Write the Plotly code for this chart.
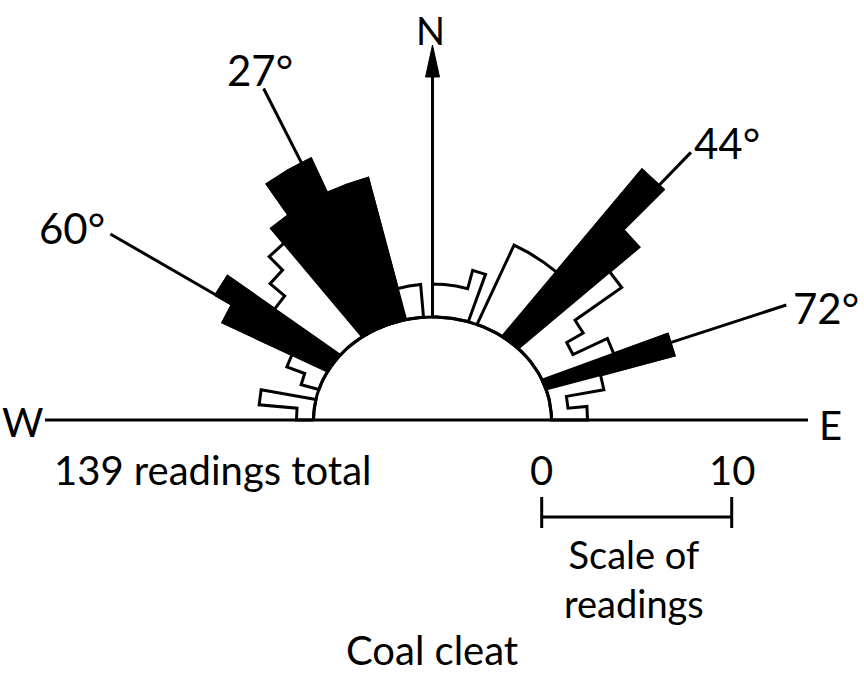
import numpy as np
import plotly.graph_objects as go

# ---------------- data ----------------
bin_start = list(range(-90, 90, 5))          # azimuth of bin start (deg, W negative)
bin_width = 5
counts = [1, 3, 0, 1, 2, 6, 7, 4, 5, 6, 7, 9, 9, 7, 7, 1, 1, 0,
          1, 1, 1, 2, 0, 4, 4, 4, 11, 8, 6, 3, 2, 4, 7, 3, 1, 2]
filled = [0, 0, 0, 0, 0, 1, 1, 0, 0, 0, 1, 1, 1, 1, 1, 0, 0, 0,
          0, 0, 0, 0, 0, 0, 0, 0, 1, 1, 0, 0, 0, 0, 1, 0, 0, 0]
peak_angles = [-60, -27, 44, 72]
peak_labels = ["60°", "27°", "44°", "72°"]
total_readings = 139
scale_ticks = [0, 10]

# ---------------- geometry / style ----------------
PX = 19.0                 # pixels per reading
CX, CY = 432.5, 420.0     # centre in page pixels
RX, RY = 119 / PX, 103 / PX   # flattened base semicircle
R0 = 117 / PX             # zero-reading radius
R_LEAD = 372 / PX
LW = 3
FONT = "Lato"


def px(x, y):
    return (x - CX) / PX, (CY - y) / PX


def ell(phi):
    a = np.radians(phi)
    r = 1.0 / np.sqrt((np.sin(a) / RX) ** 2 + (np.cos(a) / RY) ** 2)
    return r * np.sin(a), r * np.cos(a)


def pol(r, phi):
    a = np.radians(phi)
    return r * np.sin(a), r * np.cos(a)


def runs(mask):
    out, cur = [], []
    for i, m in enumerate(mask):
        if m:
            cur.append(i)
        elif cur:
            out.append(cur)
            cur = []
    if cur:
        out.append(cur)
    return out


def run_polygon(idx):
    a0 = bin_start[idx[0]]
    a1 = bin_start[idx[-1]] + bin_width
    xs, ys = [], []
    x, y = ell(a0)
    xs.append(x); ys.append(y)
    for i in idx:
        r = R0 + counts[i]
        for phi in (bin_start[i], bin_start[i] + bin_width):
            x, y = pol(r, phi)
            xs.append(x); ys.append(y)
    for phi in np.linspace(a1, a0, 20):
        x, y = ell(phi)
        xs.append(x); ys.append(y)
    xs.append(xs[0]); ys.append(ys[0])
    return xs, ys


fig = go.Figure()

# outline (white) bars
for run in runs([c > 0 for c in counts]):
    xs, ys = run_polygon(run)
    fig.add_trace(go.Scatter(x=xs, y=ys, mode="lines", fill="toself",
                             fillcolor="white", line=dict(color="black", width=LW),
                             hoverinfo="skip"))

# leader lines to the peak labels
for ang in peak_angles:
    i = min(range(len(bin_start)), key=lambda k: abs(bin_start[k] + bin_width / 2 - ang))
    r_in = R0 + counts[i] - 0.5
    x0, y0 = pol(r_in, ang)
    x1, y1 = pol(R_LEAD, ang)
    fig.add_trace(go.Scatter(x=[x0, x1], y=[y0, y1], mode="lines",
                             line=dict(color="black", width=LW), hoverinfo="skip"))

# filled (black) bars
for run in runs([c > 0 and f == 1 for c, f in zip(counts, filled)]):
    xs, ys = run_polygon(run)
    fig.add_trace(go.Scatter(x=xs, y=ys, mode="lines", fill="toself",
                             fillcolor="black", line=dict(color="black", width=LW),
                             hoverinfo="skip"))

# base semicircle
phis = np.linspace(-90, 90, 181)
ex, ey = zip(*[ell(p) for p in phis])
fig.add_trace(go.Scatter(x=list(ex), y=list(ey), mode="lines",
                         line=dict(color="black", width=LW), hoverinfo="skip"))

# W-E line
bx0, _ = px(45, 420)
bx1, _ = px(808, 420)
fig.add_trace(go.Scatter(x=[bx0, bx1], y=[0, 0], mode="lines",
                         line=dict(color="black", width=LW), hoverinfo="skip"))

# north arrow
_, y_base = px(0, 77)
_, y_tip = px(0, 45)
hw = 7 / PX
fig.add_trace(go.Scatter(x=[0, 0], y=[RY, y_base], mode="lines",
                         line=dict(color="black", width=LW), hoverinfo="skip"))
fig.add_trace(go.Scatter(x=[-hw, hw, 0, -hw], y=[y_base, y_base, y_tip, y_base],
                         mode="lines", fill="toself", fillcolor="black",
                         line=dict(color="black", width=1), hoverinfo="skip"))

# scale bar
sx0, sy = px(541.7, 517)
_, ty0 = px(0, 497)
_, ty1 = px(0, 528)
fig.add_trace(go.Scatter(x=[sx0 + scale_ticks[0], sx0 + scale_ticks[-1]], y=[sy, sy],
                         mode="lines", line=dict(color="black", width=LW), hoverinfo="skip"))
for t in scale_ticks:
    fig.add_trace(go.Scatter(x=[sx0 + t, sx0 + t], y=[ty0, ty1], mode="lines",
                             line=dict(color="black", width=LW), hoverinfo="skip"))

# ---------------- text ----------------
ann = []


def text(s, x, y, size=40, xa="center", ya="middle"):
    dx, dy = px(x, y)
    ann.append(dict(x=dx, y=dy, text=s, showarrow=False, xanchor=xa, yanchor=ya,
                    font=dict(family=FONT, size=size, color="black")))


label_pos = {"60°": (72, 228), "27°": (260, 70), "44°": (727, 143), "72°": (826, 308)}
for lab in peak_labels:
    text(lab, *label_pos[lab], 42)
text("N", 430, 30, 38)
text("W", 22, 422)
text("E", 830, 425)
text(f"{total_readings} readings total", 212, 470)
for t in scale_ticks:
    text(str(t), 541.7 + t * PX, 470)
text("Scale of<br>readings", 634, 578, 38)
text("Coal cleat", 432, 650, 40)

fig.update_layout(
    width=864, height=676, margin=dict(l=0, r=0, t=0, b=0),
    paper_bgcolor="white", plot_bgcolor="white", showlegend=False,
    xaxis=dict(range=[-CX / PX, (864 - CX) / PX], visible=False, fixedrange=True),
    yaxis=dict(range=[-(676 - CY) / PX, CY / PX], visible=False, fixedrange=True),
    annotations=ann,
)
fig.write_html("out.html")
